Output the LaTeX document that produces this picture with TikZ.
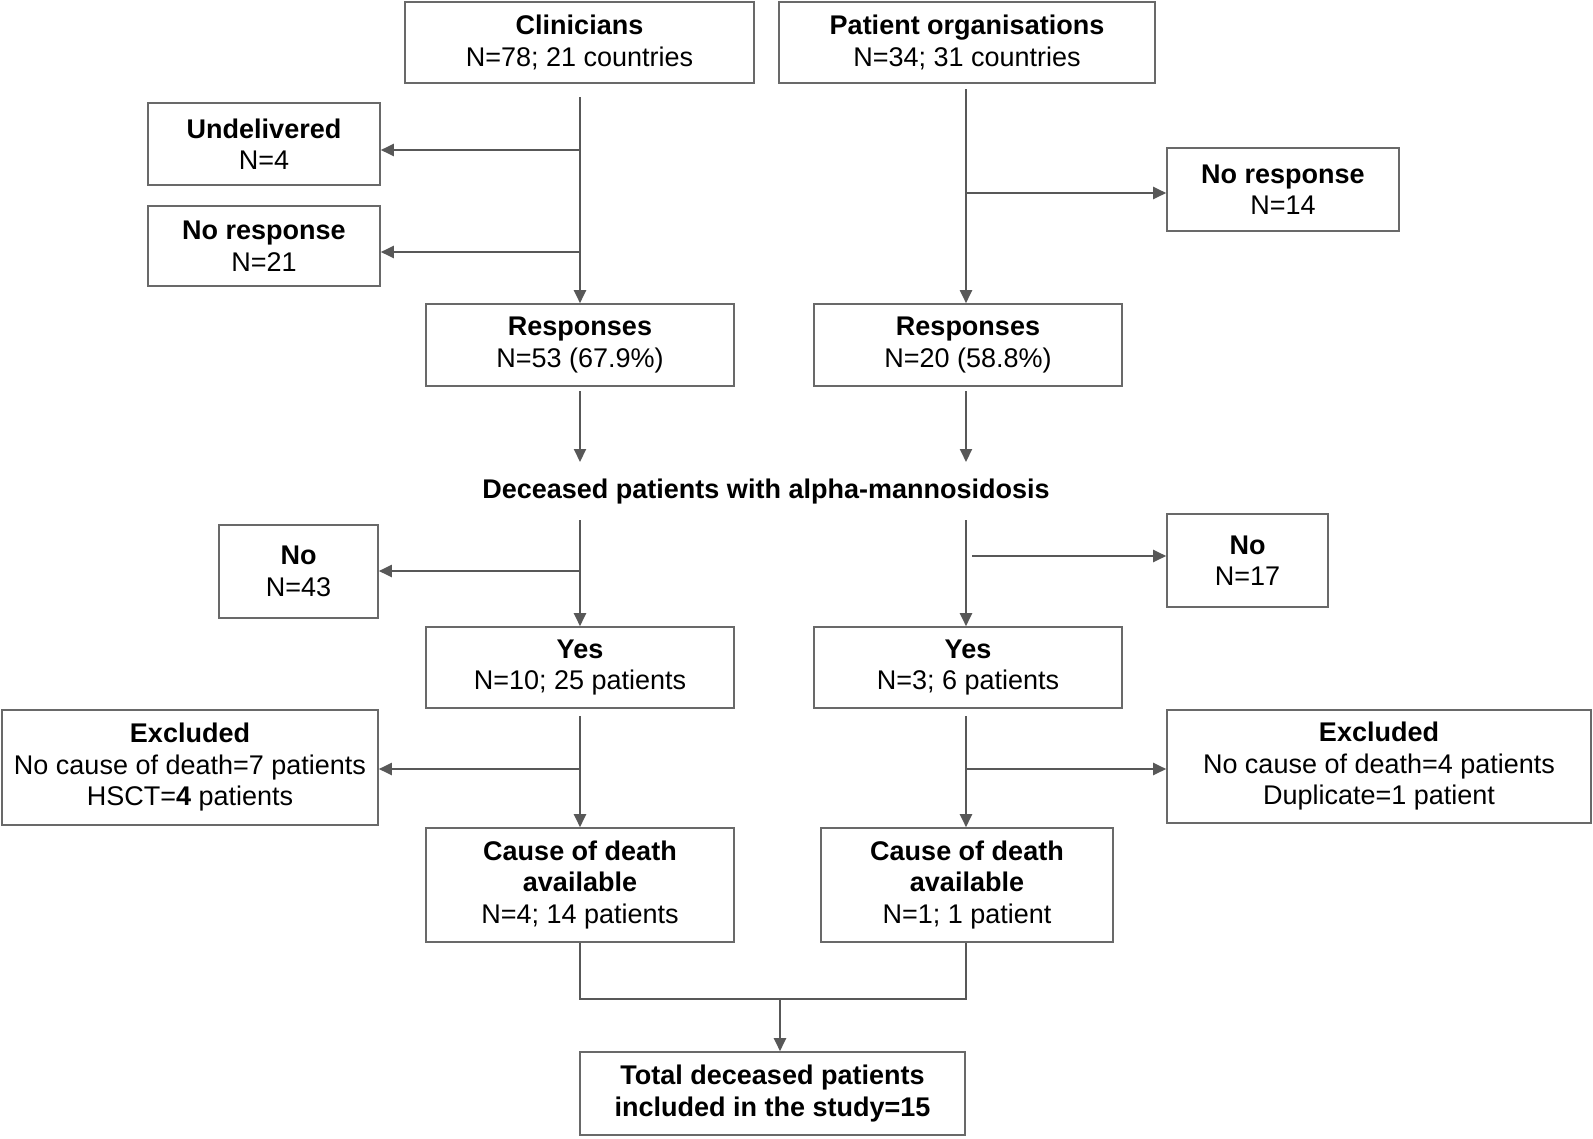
\documentclass[tikz,border=0pt]{standalone}
\usepackage{fontspec}
\setmainfont{Liberation Sans}
\usetikzlibrary{arrows.meta,calc}
\definecolor{lncol}{RGB}{88,88,88}
\definecolor{bdcol}{RGB}{105,105,105}
\begin{document}
\begin{tikzpicture}[x=1pt,y=-1pt,
  every node/.style={font=\fontsize{27}{31.5}\selectfont},
  box/.style={draw=bdcol, line width=1.6pt, align=center, inner sep=0pt},
  ln/.style={draw=lncol, line width=2pt},
  arr/.style={ln, -{Triangle[width=12pt,length=13pt]}}]
\useasboundingbox (0,0) rectangle (1593,1138);
\fill[white] (0,0) rectangle (1593,1138);

% boxes
\node[box, minimum width=349pt, minimum height=81pt] (cl) at (579.5,42.5) {\textbf{Clinicians}\\N=78; 21 countries};
\node[box, minimum width=376pt, minimum height=81pt] (po) at (967,42.5) {\textbf{Patient organisations}\\N=34; 31 countries};
\node[box, minimum width=232pt, minimum height=82pt] (und) at (264,144) {\textbf{Undelivered}\\N=4};
\node[box, minimum width=232pt, minimum height=80pt] (nrL) at (264,246) {\textbf{No response}\\N=21};
\node[box, minimum width=232pt, minimum height=83pt] (nrR) at (1283,189.5) {\textbf{No response}\\N=14};
\node[box, minimum width=308pt, minimum height=82pt] (resL) at (580,345) {\textbf{Responses}\\N=53 (67.9\%)};
\node[box, minimum width=308pt, minimum height=82pt] (resR) at (968,345) {\textbf{Responses}\\N=20 (58.8\%)};
\node[inner sep=0pt] (dec) at (766,492) {\textbf{Deceased patients with alpha-mannosidosis}};
\node[box, minimum width=159pt, minimum height=93pt] (noL) at (298.5,571.5) {\textbf{No}\\N=43};
\node[box, minimum width=161pt, minimum height=93pt] (noR) at (1247.5,560.5) {\textbf{No}\\N=17};
\node[box, minimum width=308pt, minimum height=81pt] (yesL) at (580,667.5) {\textbf{Yes}\\N=10; 25 patients};
\node[box, minimum width=308pt, minimum height=81pt] (yesR) at (968,667.5) {\textbf{Yes}\\N=3; 6 patients};
\node[box, minimum width=376pt, minimum height=115pt] (exL) at (190,767.5) {\textbf{Excluded}\\No cause of death=7 patients\\HSCT=\textbf{4} patients};
\node[box, minimum width=424pt, minimum height=113pt] (exR) at (1379,766.5) {\textbf{Excluded}\\No cause of death=4 patients\\Duplicate=1 patient};
\node[box, minimum width=308pt, minimum height=114pt] (caL) at (580,885) {\textbf{Cause of death}\\\textbf{available}\\N=4; 14 patients};
\node[box, minimum width=292pt, minimum height=114pt] (caR) at (967,885) {\textbf{Cause of death}\\\textbf{available}\\N=1; 1 patient};
\node[box, minimum width=385pt, minimum height=83pt] (tot) at (772.5,1093.5) {\textbf{Total deceased patients}\\\textbf{included in the study=15}};

% branch coordinates
\coordinate (a1) at (580,97);
\coordinate (a2) at (580,150);
\coordinate (a3) at (580,252);
\coordinate (b1) at (966,89);
\coordinate (b2) at (966,193);
\coordinate (c1) at (580,391);
\coordinate (c2) at (966,391);
\coordinate (d1) at (580,462);
\coordinate (d2) at (966,462);
\coordinate (e1) at (580,520);
\coordinate (e2) at (580,571);
\coordinate (f1) at (966,520);
\coordinate (f2) at (972,556);
\coordinate (g1) at (580,716);
\coordinate (g2) at (580,769);
\coordinate (h1) at (966,716);
\coordinate (h2) at (966,769);
\coordinate (mL) at (580,999);
\coordinate (mR) at (966,999);
\coordinate (mC) at (780,999);

% connectors
\draw[arr] (a1) -- (a1 |- resL.north);
\draw[arr] (a2) -- (a2 -| und.east);
\draw[arr] (a3) -- (a3 -| nrL.east);
\draw[arr] (b1) -- (b1 |- resR.north);
\draw[arr] (b2) -- (b2 -| nrR.west);
\draw[arr] (c1) -- (d1);
\draw[arr] (c2) -- (d2);
\draw[arr] (e1) -- (e1 |- yesL.north);
\draw[arr] (e2) -- (e2 -| noL.east);
\draw[arr] (f1) -- (f1 |- yesR.north);
\draw[arr] (f2) -- (f2 -| noR.west);
\draw[arr] (g1) -- (g1 |- caL.north);
\draw[arr] (g2) -- (g2 -| exL.east);
\draw[arr] (h1) -- (h1 |- caR.north);
\draw[arr] (h2) -- (h2 -| exR.west);
\draw[ln] (caL.south) -- (mL) -- (mR) -- (mR |- caR.south);
\draw[arr] (mC) -- (mC |- tot.north);
\end{tikzpicture}
\end{document}
